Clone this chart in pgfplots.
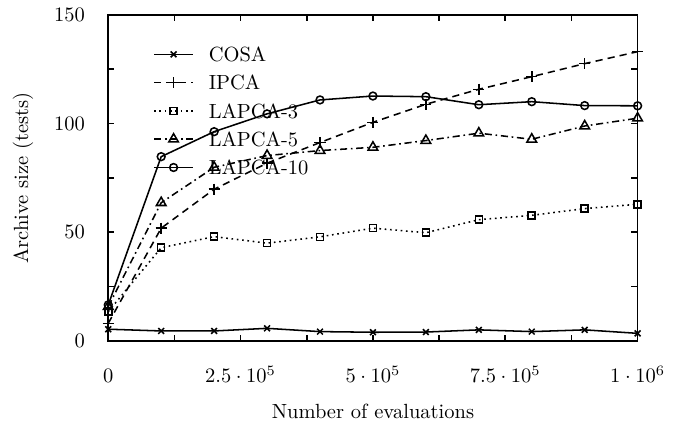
\documentclass[border=0pt]{standalone}
\usepackage{pgfplots}
\pgfplotsset{compat=1.18}
\begin{document}
\begin{tikzpicture}
\begin{axis}[
  scale only axis,
  width=258.2pt, height=159pt,
  xmin=0, xmax=1000000, ymin=0, ymax=150,
  clip=false,
  xtick={0,125000,250000,375000,500000,625000,750000,875000,1000000},
  xticklabels={$0$,,$2.5\cdot10^5$,,$5\cdot10^5$,,$7.5\cdot10^5$,,$1\cdot10^6$},
  ytick={0,25,50,75,100,125,150},
  yticklabels={0,,50,,100,,150},
  scaled x ticks=false,
  tick align=inside,
  major tick length=3pt,
  axis line style={line width=0.8pt},
  every tick/.style={line width=0.8pt, black},
  xticklabel style={anchor=base, yshift=-20.5pt},
  yticklabel style={anchor=east, inner sep=0pt, xshift=-11.2pt},
  xlabel={Number of evaluations},
  xlabel style={at={(axis description cs:0.5,0)}, anchor=base, yshift=-38pt, inner sep=0pt},
  ylabel={Archive size (tests)},
  ylabel style={at={(axis description cs:-0.1611,0.5)}, anchor=center},
  legend style={draw=none, fill=none, inner sep=0pt,
    at={(axis description cs:0.0844,0.9025)}, anchor=north west,
    row sep=6.8pt, column sep=7.3pt,
    nodes={inner sep=0pt, text height=7pt, text depth=0pt}},
  legend cell align=left,
  legend image code/.code={\draw[mark repeat=2,mark phase=2] plot coordinates {(0pt,0pt)(9.5pt,0pt)(19pt,0pt)};},
]
% COSA
\addplot[black, line width=0.75pt, mark=x, mark size=2pt, mark options={solid}] coordinates {
  (0,5.4) (100000,4.6) (200000,4.6) (300000,5.8) (400000,4.3) (500000,4.0)
  (600000,4.1) (700000,5.1) (800000,4.3) (900000,5.1) (1000000,3.5)
};
\addlegendentry{COSA}
% IPCA
\addplot[black, line width=0.75pt, dash pattern=on 3.5pt off 2.5pt, mark=+, mark size=2.7pt, mark options={solid}] coordinates {
  (0,8.1) (100000,51.9) (200000,69.8) (300000,81.8) (400000,91.3) (500000,100.6)
  (600000,108.9) (700000,115.8) (800000,121.6) (900000,127.6) (1000000,133.1)
};
\addlegendentry{IPCA}
% LAPCA-3
\addplot[black, line width=0.75pt, dash pattern=on 0.8pt off 1.8pt, mark=square, mark size=1.7pt, mark options={solid}] coordinates {
  (0,13.5) (100000,42.9) (200000,48.0) (300000,45.0) (400000,47.9) (500000,51.9)
  (600000,49.8) (700000,55.8) (800000,57.8) (900000,60.9) (1000000,62.9)
};
\addlegendentry{LAPCA-3}
% LAPCA-5
\addplot[black, line width=0.75pt, dash pattern=on 3.5pt off 1.8pt on 0.8pt off 1.8pt, mark=triangle, mark size=2.7pt, mark options={solid}] coordinates {
  (0,15.8) (100000,63.6) (200000,79.9) (300000,85.3) (400000,87.6) (500000,89.1)
  (600000,92.2) (700000,95.6) (800000,92.8) (900000,98.9) (1000000,102.5)
};
\addlegendentry{LAPCA-5}
% LAPCA-10
\addplot[black, line width=0.75pt, mark=o, mark size=1.9pt, mark options={solid}] coordinates {
  (0,16.6) (100000,84.8) (200000,96.3) (300000,104.5) (400000,110.9) (500000,112.7)
  (600000,112.4) (700000,108.7) (800000,110.1) (900000,108.3) (1000000,108.2)
};
\addlegendentry{LAPCA-10}
\end{axis}
\pgfresetboundingbox
\useasboundingbox (-52.8pt,-42pt) rectangle (277.9pt,166.3pt);
\end{tikzpicture}
\end{document}
